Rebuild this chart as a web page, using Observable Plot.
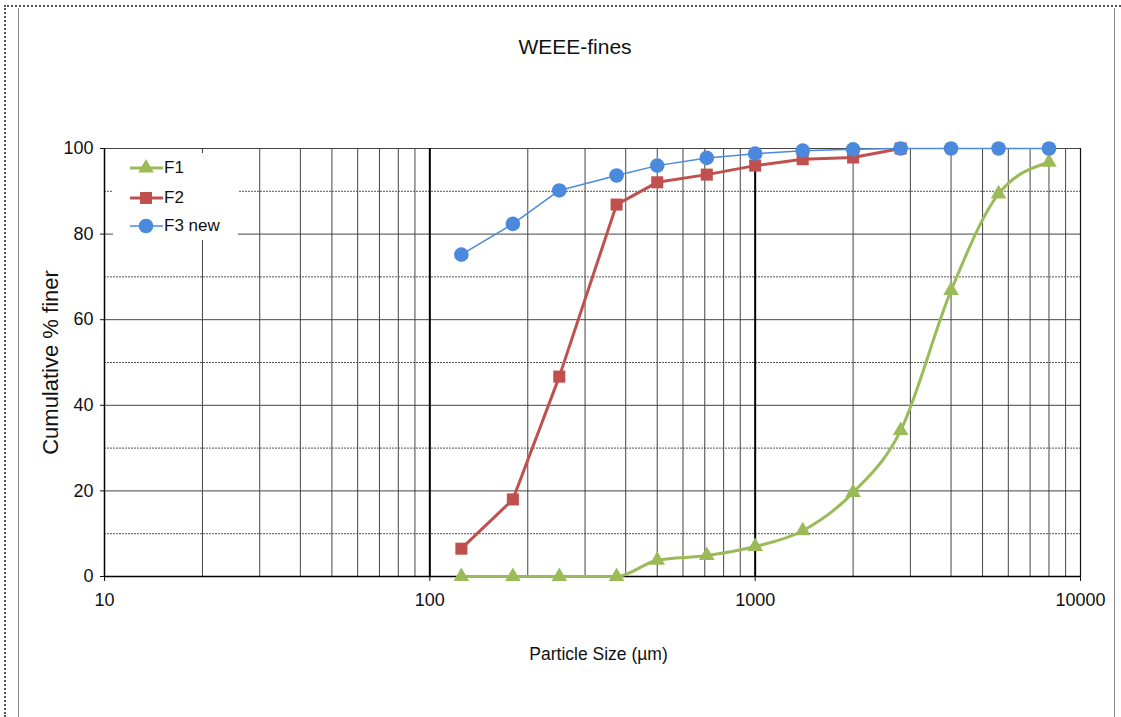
<!DOCTYPE html>
<html>
<head>
<meta charset="utf-8">
<script src="https://cdn.jsdelivr.net/npm/d3@7"></script>
<script src="https://cdn.jsdelivr.net/npm/@observablehq/plot@0.6"></script>
<style>
  body { margin: 0; background: #fff; font-family: "Liberation Sans", Arial, sans-serif; }
  #page { position: relative; width: 1121px; height: 717px; overflow: hidden; background: #fff; }
  .dot-top { position: absolute; left: 4px; top: 5px; width: 1117px; height: 0; border-top: 2px dotted #555; }
  .dot-left { position: absolute; left: 4px; top: 5px; width: 0; height: 712px; border-left: 2px dotted #555; }
  .edge { position: absolute; top: 8px; width: 0; height: 709px; border-left: 1.5px solid #888; }
  #title { position: absolute; left: 0; width: 1150px; top: 35px; text-align: center; font-size: 21px; color: #111; }
  #chart { position: absolute; left: 0; top: 0; }
  #legend { position: absolute; left: 113px; top: 153px; width: 125px; height: 87px; background: #fff; }
  #legend .row { position: absolute; left: 0; height: 24px; display: flex; align-items: center; font-size: 17px; color: #111; }
  #legend svg { display: block; }
</style>
</head>
<body>
<div id="page">
  <div class="dot-top"></div>
  <div class="dot-left"></div>
  <div class="edge" style="left:18px"></div>
  <div class="edge" style="left:1114px"></div>
  <div id="title">WEEE-fines</div>
  <div id="chart"></div>
  <div id="legend"></div>
</div>
<script>
// Sieve sizes (µm) and cumulative % passing for each fraction
const sizes = [125, 180, 250, 375, 500, 710, 1000, 1400, 2000, 2800, 4000, 5600, 8000];
const f1 = [0, 0, 0, 0, 3.8, 4.9, 7.0, 10.7, 19.6, 34.1, 66.8, 89.4, 96.8];
const f2 = [6.5, 18.0, 46.7, 86.9, 92.1, 93.9, 96.0, 97.5, 97.9, 100];
const f3 = [75.2, 82.4, 90.2, 93.7, 96.0, 97.8, 98.8, 99.5, 99.8, 100, 100, 100, 100];

const seriesNames = ["F1", "F2", "F3 new"];
const seriesColors = ["#9BBB59", "#C0504D", "#4A89DC"];
const seriesSymbols = ["triangle", "square", "circle"];

const xTicks = [10, 100, 1000, 10000];
const yTicks = [0, 20, 40, 60, 80, 100];
const yMinorTicks = [10, 30, 50, 70, 90];

// log-scale minor grid: 2..9 within each decade
const xMinor = [10, 100, 1000].flatMap(d => d3.range(2, 10).map(k => k * d));

const toRows = (name, ys) => ys.map((pct, i) => ({ size: sizes[i], pct, series: name }));
const rows = [toRows(seriesNames[0], f1), toRows(seriesNames[1], f2), toRows(seriesNames[2], f3)];

const chart = Plot.plot({
  width: 1121,
  height: 717,
  marginLeft: 104,
  marginRight: 41,
  marginTop: 148,
  marginBottom: 141,
  style: { fontFamily: "Liberation Sans, Arial, sans-serif", fontSize: "18px", color: "#111", background: "transparent", overflow: "visible" },
  x: { type: "log", domain: [10, 10000], ticks: xTicks, tickFormat: d => String(d), tickSize: 5, tickPadding: 12, label: null },
  y: { domain: [0, 100], ticks: yTicks, tickSize: 4, tickPadding: 7, label: null },
  marks: [
    Plot.ruleY(yMinorTicks, { stroke: "#555", strokeDasharray: "2,1", strokeWidth: 1 }),
    Plot.ruleY(yTicks.filter(d => d > 0), { stroke: "#444", strokeWidth: 1 }),
    Plot.ruleX(xMinor, { stroke: "#444", strokeWidth: 1 }),
    Plot.ruleX([100, 1000], { stroke: "#000", strokeWidth: 2 }),
    Plot.ruleX([10000], { stroke: "#111", strokeWidth: 1.2 }),
    Plot.ruleY([0], { stroke: "#000", strokeWidth: 1.5 }),
    Plot.ruleX([10], { stroke: "#000", strokeWidth: 1.5 }),

    Plot.line(rows[0], { x: "size", y: "pct", stroke: seriesColors[0], strokeWidth: 3, curve: "monotone-x" }),
    Plot.dot(rows[0], { x: "size", y: "pct", symbol: seriesSymbols[0], r: 5.8, fill: seriesColors[0] }),
    Plot.line(rows[1], { x: "size", y: "pct", stroke: seriesColors[1], strokeWidth: 3 }),
    Plot.dot(rows[1], { x: "size", y: "pct", symbol: seriesSymbols[1], r: 6.8, fill: seriesColors[1] }),
    Plot.line(rows[2], { x: "size", y: "pct", stroke: seriesColors[2], strokeWidth: 1.5 }),
    Plot.dot(rows[2], { x: "size", y: "pct", symbol: seriesSymbols[2], r: 7.3, fill: seriesColors[2] }),

    Plot.text(["Cumulative % finer"], { frameAnchor: "left", dx: -54, rotate: -90, textAnchor: "middle", lineAnchor: "middle", fontSize: 22, fill: "#111" }),
    Plot.text(["Particle Size (µm)"], { frameAnchor: "bottom", dx: 6, dy: 78, textAnchor: "middle", lineAnchor: "middle", fontSize: 17.5, fill: "#111" })
  ]
});
document.getElementById("chart").append(chart);

// Legend box with line + marker samples
const legend = d3.select("#legend");
const legendTops = [3, 33, 61];
seriesNames.forEach((name, i) => {
  const row = legend.append("div").attr("class", "row").style("top", legendTops[i] + "px");
  const svg = row.append("svg").attr("width", 51).attr("height", 24);
  svg.append("line").attr("x1", 17).attr("x2", 50).attr("y1", 12).attr("y2", 12)
    .attr("stroke", seriesColors[i]).attr("stroke-width", i === 2 ? 1.5 : 3);
  const sym = { triangle: d3.symbolTriangle, square: d3.symbolSquare, circle: d3.symbolCircle }[seriesSymbols[i]];
  const r = [5.8, 6.8, 7.3][i];
  svg.append("path").attr("d", d3.symbol(sym, Math.PI * r * r)()).attr("transform", "translate(33,12)")
    .attr("fill", seriesColors[i]);
  row.append("span").text(name);
});
</script>
</body>
</html>
